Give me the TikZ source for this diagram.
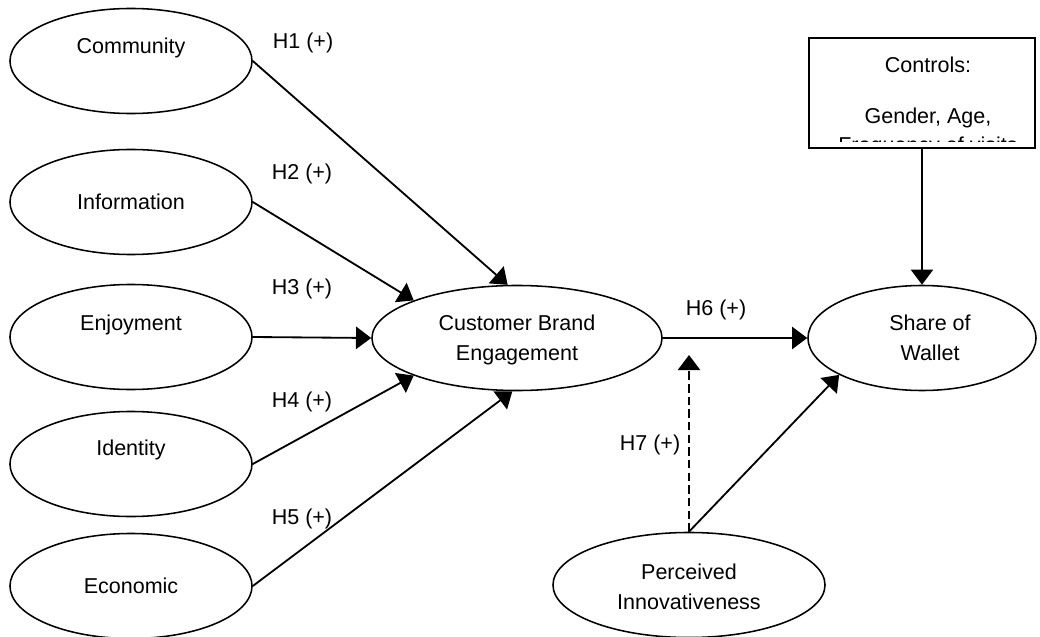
\documentclass[tikz,border=0pt]{standalone}
\usepackage{fontspec}
\setmainfont{Liberation Sans}
\usetikzlibrary{arrows.meta,shapes.geometric}
\newcommand{\dfont}{\fontsize{15.3}{21.3}\selectfont}
\tikzset{
  construct/.style={ellipse,draw,line width=1.1pt,minimum width=6.05cm,minimum height=2.625cm,inner sep=0pt},
  link/.style={line width=1.3pt,-{Triangle[length=0.38cm,width=0.56cm]}},
  modlink/.style={link,dash pattern=on 6pt off 3pt}
}

\begin{document}
\begin{tikzpicture}[x=0.025cm,y=-0.025cm,every node/.style={font=\dfont}]
  \useasboundingbox (0,0) rectangle (1040,637);

  % antecedents
  \node[construct,label={[yshift=0.325cm]center:Community}] (comm) at (131,61) {};
  \node[construct,label={center:Information}] (info) at (131,202) {};
  \node[construct,label={[yshift=0.3cm]center:Enjoyment}] (enjoy) at (131,337) {};
  \node[construct,label={[yshift=0.35cm]center:Identity}] (ident) at (131,464) {};
  \node[construct,label={center:Economic}] (econ) at (131,586) {};

  % engagement, outcome, moderator
  \node[construct,minimum width=7.25cm] (cbe) at (517,338) {};
  \begin{scope}
    \clip (372,280) rectangle (662,364);
    \node[align=center] (cbetext) at (517,340) {Customer Brand\\Engagement};
  \end{scope}
  \node[construct,minimum width=5.7cm,
    label={[xshift=0.2cm,align=center]center:Share of\\Wallet}] (sow) at (922,338) {};
  \node[construct,minimum width=6.8cm,
    label={[yshift=-0.05cm,align=center]center:Perceived\\Innovativeness}] (pi) at (689,585) {};

  % controls box, last line cut off
  \node[draw,line width=1.2pt,minimum width=5.65cm,minimum height=2.75cm] (ctrl) at (922,93) {};
  \begin{scope}
    \clip (810,40) rectangle (1034,141);
    \node (ctrl1) at (928,65) {Controls:};
    \node (ctrl2) at (928,118) {Gender, Age,};
    \node (ctrl3) at (928,147) {Frequency of visits};
  \end{scope}

  % paths
  \draw[link] (comm.east) -- (cbe.100);
  \draw[link] (info.east) -- (cbe.160);
  \draw[link] (enjoy.east) -- (cbe.west);
  \draw[link] (ident.east) -- (cbe.200);
  \draw[link] (econ.east) -- (cbe.265);
  \draw[link] (cbe.east) -- (sow.west);
  \coordinate (modtip) at (689,355);
  \draw[modlink] (pi.north) -- (modtip);
  \draw[link] (pi.north) -- (sow.204);
  \draw[link] (ctrl.south) -- (sow.north);

  % hypotheses
  \node (h1) at (303,43) {H1 (+)};
  \node (h2) at (302,174) {H2 (+)};
  \node (h3) at (302,289) {H3 (+)};
  \node (h4) at (302,402) {H4 (+)};
  \node (h5) at (302,519) {H5 (+)};
  \node (h6) at (716,310) {H6 (+)};
  \node (h7) at (650,445) {H7 (+)};
\end{tikzpicture}
\end{document}
